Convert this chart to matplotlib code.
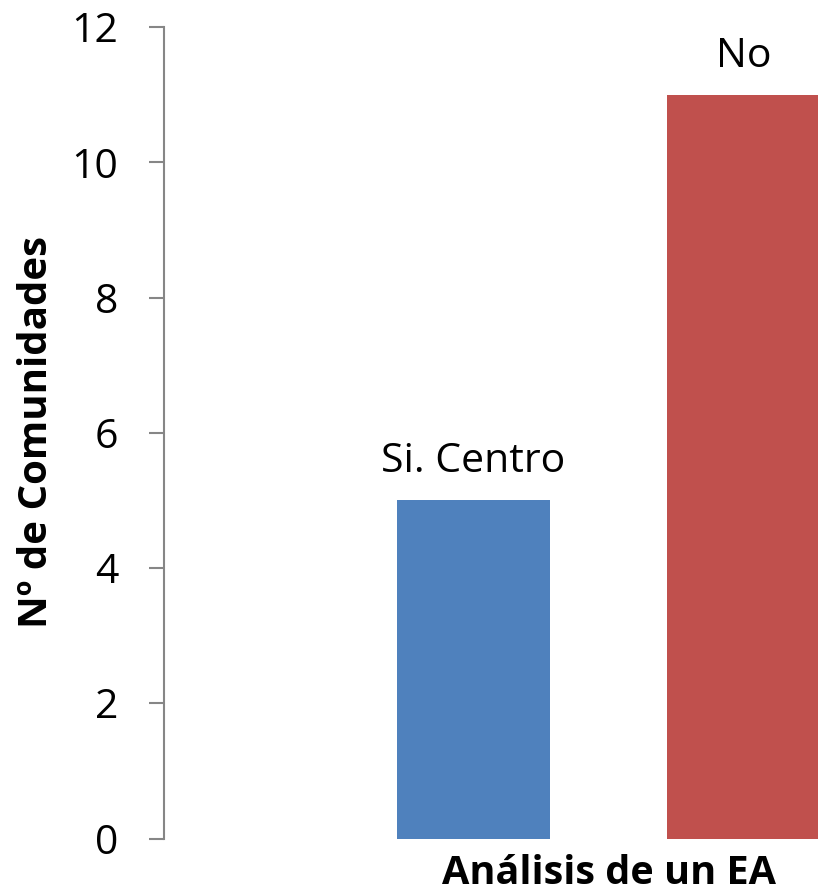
import matplotlib
matplotlib.use("Agg")
import matplotlib.pyplot as plt

categories = ["Si. Centro", "No"]
values = [5, 11]
colors = ["#4F81BD", "#C0504D"]
yticks = [0, 2, 4, 6, 8, 10, 12]

plt.rcParams['font.family'] = ['Open Sans', 'DejaVu Sans']

W, H = 818, 892
fig = plt.figure(figsize=(W / 100, H / 100), dpi=100)
ax = fig.add_axes([164 / W, 1 - 838.5 / H, (W - 164) / W, (838.5 - 27) / H])

positions = [1, 2]
ax.bar(positions, values, width=0.57, color=colors)
for p, v, c in zip(positions, values, categories):
    ax.annotate(c, (p, v), xytext=(0, 13), textcoords='offset points',
                ha='center', va='bottom', fontsize=29.5)

ax.set_xlim(1 - 309.5 / 270, 1 + (W - 164 - 309.5) / 270)
ax.set_ylim(0, 12)
ax.set_yticks(yticks)
ax.set_yticklabels([str(t) for t in yticks], fontsize=29.5)
ax.tick_params(axis='y', length=11, width=1.5, color='#868686', pad=22)
ax.set_xticks([])
for s in ['top', 'right', 'bottom']:
    ax.spines[s].set_visible(False)
ax.spines['left'].set_color('#868686')
ax.spines['left'].set_linewidth(1.5)

fig.text(37 / W, 1 - 432 / H, "Nº de Comunidades", rotation=90, ha='center', va='center',
         fontsize=29, fontweight='bold')
fig.text(609 / W, 1 - 873 / H, "Análisis de un EA", ha='center', va='center',
         fontsize=28.5, fontweight='bold')

fig.savefig("out.png", dpi=100)
